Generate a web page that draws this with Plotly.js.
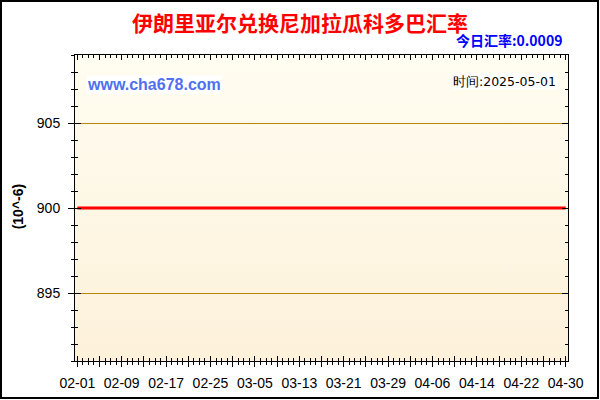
<!DOCTYPE html>
<html>
<head>
<meta charset="utf-8">
<script src="https://cdn.plot.ly/plotly-3.0.1.min.js"></script>
<style>
  body { margin: 0; background: #fff; }
  #chart { width: 600px; height: 400px; position: relative; }
  #frame { position: absolute; left: 0; top: 0; width: 595px; height: 395px; border: 2px solid #000; pointer-events: none; }
</style>
</head>
<body>
<div id="chart"><div id="frame"></div></div>
<script>
// rate in units of 10^-6
let dates = ['2025-02-01', '2025-02-09', '2025-02-17', '2025-02-25', '2025-03-05', '2025-03-13',
             '2025-03-21', '2025-03-29', '2025-04-06', '2025-04-14', '2025-04-22', '2025-04-30'];
let rates = [900, 900, 900, 900, 900, 900, 900, 900, 900, 900, 900, 900];

// major ticks every 4 days, labels every 8 days
let tickDates = ['2025-02-01', '2025-02-05', '2025-02-09', '2025-02-13', '2025-02-17', '2025-02-21',
                 '2025-02-25', '2025-03-01', '2025-03-05', '2025-03-09', '2025-03-13', '2025-03-17',
                 '2025-03-21', '2025-03-25', '2025-03-29', '2025-04-02', '2025-04-06', '2025-04-10',
                 '2025-04-14', '2025-04-18', '2025-04-22', '2025-04-26', '2025-04-30'];
let tickLabels = ['02-01', '', '02-09', '', '02-17', '', '02-25', '', '03-05', '', '03-13', '',
                  '03-21', '', '03-29', '', '04-06', '', '04-14', '', '04-22', '', '04-30'];
let yTicks = [895, 900, 905];

let titleText = '伊朗里亚尔兑换尼加拉瓜科多巴汇率';
let todayText = '今日汇率:0.0009';
let siteText = 'www.cha678.com';
let timeText = '时间:2025-05-01';
let unitText = '(10^-6)';

let w = document.getElementById('chart');
let day = 86400000;

//plot background gradient as an svg image
let grad = 'data:image/svg+xml;base64,' + btoa(
  '<svg xmlns="http://www.w3.org/2000/svg" width="10" height="100" preserveAspectRatio="none">' +
  '<defs><linearGradient id="g" x1="0" y1="0" x2="0" y2="1">' +
  '<stop offset="0" stop-color="#FFFDF1"/><stop offset="1" stop-color="#FDF1DA"/></linearGradient></defs>' +
  '<rect width="10" height="100" fill="url(#g)"/></svg>');

let line = {
  x: dates,
  y: rates,
  type: 'scatter',
  mode: 'lines',
  line: { color: '#FF0000', width: 3 },
  hoverinfo: 'skip',
};
//empty trace so the overlay axes get drawn
let ghost = { x: [dates[0]], y: [rates[0]], xaxis: 'x2', yaxis: 'y2', mode: 'none', hoverinfo: 'skip' };

let tickFont = { family: 'Liberation Sans, Arial, sans-serif', size: 14, color: '#000' };

let layout = {
  width: 600,
  height: 400,
  margin: { l: 75, r: 32, t: 55, b: 39 },
  paper_bgcolor: '#fff',
  plot_bgcolor: 'rgba(0,0,0,0)',
  showlegend: false,
  title: {
    text: titleText,
    font: { family: 'Noto Sans CJK SC, sans-serif', size: 21, color: '#FF0000', weight: 'bold' },
    x: 0.5, xref: 'container', xanchor: 'center',
    y: 0.94, yref: 'container', yanchor: 'middle',
  },
  xaxis: {
    type: 'date',
    range: ['2025-01-31 14:00', '2025-04-30 10:00'],
    tickmode: 'array',
    tickvals: tickDates,
    ticktext: tickLabels,
    ticks: 'inside', ticklen: 5, tickcolor: '#000',
    minor: { dtick: day, tick0: '2025-02-01', ticks: 'inside', ticklen: 3, tickcolor: '#000' },
    mirror: 'allticks',
    showline: true, linecolor: '#000', linewidth: 1,
    showgrid: false, zeroline: false,
    tickfont: tickFont,
    ticklabelstandoff: 9,
  },
  xaxis2: {
    overlaying: 'x', matches: 'x', type: 'date',
    tickmode: 'array', tickvals: tickDates, showticklabels: false,
    ticks: 'outside', ticklen: 5, tickcolor: '#000',
    minor: { dtick: day, tick0: '2025-02-01', ticks: 'outside', ticklen: 3, tickcolor: '#000' },
    showline: false, showgrid: false, zeroline: false,
  },
  yaxis: {
    range: [891, 909],
    tickmode: 'array',
    tickvals: yTicks,
    ticks: 'inside', ticklen: 6, tickcolor: '#000',
    minor: { dtick: 1, tick0: 891, ticks: 'inside', ticklen: 3, tickcolor: '#000' },
    mirror: 'allticks',
    showline: true, linecolor: '#000', linewidth: 1,
    showgrid: true, gridcolor: '#B8860B', gridwidth: 1,
    zeroline: false,
    tickfont: tickFont,
    ticklabelstandoff: 11,
  },
  yaxis2: {
    overlaying: 'y', matches: 'y',
    tickmode: 'array', tickvals: yTicks, showticklabels: false,
    ticks: 'outside', ticklen: 6, tickcolor: '#000',
    minor: { dtick: 1, tick0: 891, ticks: 'outside', ticklen: 3, tickcolor: '#000' },
    showline: false, showgrid: false, zeroline: false,
  },
  images: [{
    source: grad, xref: 'paper', yref: 'paper', x: 0, y: 1, sizex: 1, sizey: 1,
    sizing: 'stretch', xanchor: 'left', yanchor: 'top', layer: 'below',
  }],
  annotations: [
    { //today's rate above the plot
      text: todayText, xref: 'paper', yref: 'paper', x: 1, y: 1, xanchor: 'right', yanchor: 'bottom',
      xshift: -4, yshift: 3, showarrow: false,
      font: { family: 'Noto Sans CJK SC, sans-serif', size: 14, color: '#0000FF', weight: 'bold' },
    },
    { //site watermark
      text: siteText, xref: 'paper', yref: 'paper', x: 0.022, y: 0.905, xanchor: 'left', yanchor: 'middle',
      showarrow: false, bgcolor: '#fff', borderpad: 0,
      font: { family: 'Liberation Sans, Arial, sans-serif', size: 16, color: '#5070F0', weight: 'bold' },
    },
    { //date stamp
      text: timeText, xref: 'paper', yref: 'paper', x: 0.978, y: 0.915, xanchor: 'right', yanchor: 'middle',
      showarrow: false, bgcolor: '#fff', borderpad: 0,
      font: { family: 'DejaVu Sans, sans-serif', size: 12.5, color: '#000' },
    },
    { //unit label on the left
      text: unitText, xref: 'paper', yref: 'paper', x: -0.1165, y: 0.504, xanchor: 'center', yanchor: 'middle',
      textangle: -90, showarrow: false,
      font: { family: 'Liberation Sans, Arial, sans-serif', size: 14, color: '#000', weight: 'bold' },
    },
  ],
};

Plotly.newPlot(w, [line, ghost], layout, { displayModeBar: false, staticPlot: true });
</script>
</body>
</html>
